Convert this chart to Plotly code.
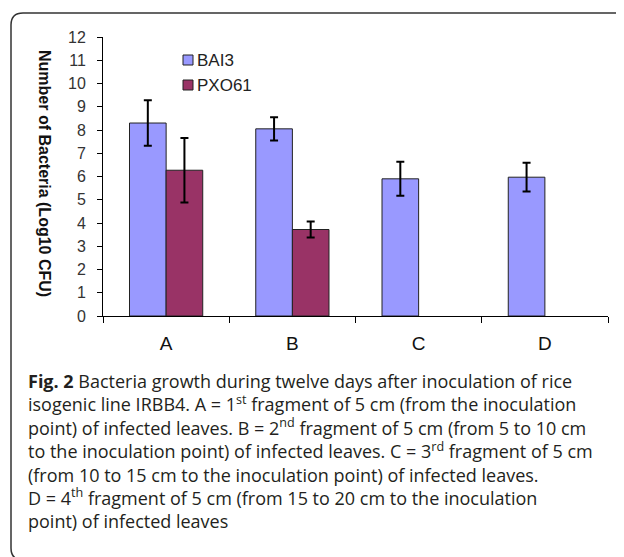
import plotly.graph_objects as go

categories = ["A", "B", "C", "D"]
bai3 = [8.3, 8.05, 5.9, 5.97]
bai3_err = [0.98, 0.5, 0.73, 0.62]
pxo61 = [6.27, 3.72, None, None]
pxo61_err = [1.39, 0.34, None, None]
y_ticks = list(range(0, 13))
series_names = ["BAI3", "PXO61"]
series_colors = ["#9999FF", "#993366"]

caption_lines = [
    "<b>Fig. 2</b> Bacteria growth during twelve days after inoculation of rice",
    "isogenic line IRBB4. A = 1<sup>st</sup> fragment of 5 cm (from the inoculation",
    "point) of infected leaves. B = 2<sup>nd</sup> fragment of 5 cm (from 5 to 10 cm",
    "to the inoculation point) of infected leaves. C = 3<sup>rd</sup> fragment of 5 cm",
    "(from 10 to 15 cm to the inoculation point) of infected leaves.",
    "D = 4<sup>th</sup> fragment of 5 cm (from 15 to 20 cm to the inoculation",
    "point) of infected leaves",
]

PAGE_W, PAGE_H = 624, 557
OFF = 8  # default body margin of the page
W, H = PAGE_W - OFF, PAGE_H - OFF


def px(x):
    return (x - OFF) / W


def py(y):
    return 1 - (y - OFF) / H


fig = go.Figure()
fig.add_trace(go.Bar(
    name=series_names[0], x=categories, y=bai3,
    marker=dict(color=series_colors[0], line=dict(color="#222222", width=1)),
    error_y=dict(type="data", array=bai3_err, color="black", thickness=2, width=4),
))
fig.add_trace(go.Bar(
    name=series_names[1], x=categories, y=pxo61,
    marker=dict(color=series_colors[1], line=dict(color="#222222", width=1)),
    error_y=dict(type="data", array=pxo61_err, color="black", thickness=2, width=4),
))

fig.update_layout(
    width=W, height=H,
    margin=dict(l=0, r=0, t=0, b=0),
    paper_bgcolor="white", plot_bgcolor="white",
    barmode="group", bargap=0.42, bargroupgap=0,
    font=dict(family="Liberation Sans, Arial, sans-serif", color="#222222"),
    showlegend=False,
    xaxis=dict(domain=[px(103), px(608)], showline=True, linecolor="black", linewidth=1,
               ticks="outside", ticklen=6, tickcolor="black", tickson="boundaries",
               tickfont=dict(size=19, color="#111111"), ticklabelstandoff=10,
               showgrid=False, zeroline=False, automargin=False),
    yaxis=dict(domain=[py(316), py(37)], range=[0, 12], tickvals=y_ticks,
               showline=True, linecolor="black", linewidth=1,
               ticks="outside", ticklen=5, tickcolor="black",
               tickfont=dict(size=16, color="#333333"), ticklabelstandoff=8,
               showgrid=False, zeroline=False, automargin=False),
)

# legend (manual, to match the tight box/label spacing)
for i, (name, col) in enumerate(zip(series_names, series_colors)):
    yc = 60 + i * 25
    fig.add_shape(type="rect", xref="paper", yref="paper",
                  x0=px(183), x1=px(193), y0=py(yc - 5), y1=py(yc + 5),
                  fillcolor=col, line=dict(color="#222222", width=1))
    fig.add_annotation(text=name, x=px(195), y=py(yc), xref="paper", yref="paper",
                       xanchor="left", yanchor="middle", showarrow=False,
                       font=dict(size=17, color="#222222"))

fig.add_annotation(
    text="<b>Number of Bacteria (Log10 CFU)</b>", textangle=90,
    x=px(45), y=py(173), xref="paper", yref="paper", showarrow=False,
    xanchor="center", yanchor="middle",
    font=dict(size=16, color="#111111"),
)

fig.add_annotation(
    text="<br>".join(caption_lines), x=px(27), y=py(451), xref="paper", yref="paper",
    xanchor="left", yanchor="middle", align="left", showarrow=False, borderpad=0,
    font=dict(family="Open Sans", size=18, color="#231f20"),
)

r = 12
x0, y0 = 11, 13
yb = 560
path = (f"M {px(PAGE_W + 20)},{py(yb)} L {px(x0 + r)},{py(yb)} "
        f"Q {px(x0)},{py(yb)} {px(x0)},{py(yb - r)} L {px(x0)},{py(y0 + r)} "
        f"Q {px(x0)},{py(y0)} {px(x0 + r)},{py(y0)} L {px(PAGE_W + 20)},{py(y0)}")
fig.add_shape(type="path", path=path, xref="paper", yref="paper",
              line=dict(color="#333333", width=1.5))

fig.write_html("out.html")
